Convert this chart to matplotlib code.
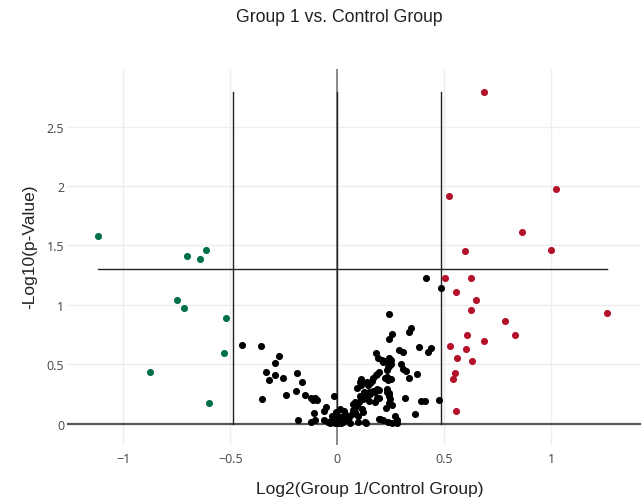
import numpy as np
import matplotlib
matplotlib.use('Agg')
import matplotlib.pyplot as plt

# log2 fold change / -log10 p for the three groups
down_x = [-1.118, -0.702, -0.642, -0.611, -0.747, -0.718, -0.520, -0.529, -0.877, -0.600]
down_y = [1.58, 1.41, 1.39, 1.46, 1.04, 0.97, 0.886, 0.59, 0.434, 0.173]

up_x = [0.687, 0.524, 1.022, 0.864, 0.599, 0.997, 0.503, 0.624, 0.557, 0.651, 0.626, 1.263,
        0.782, 0.829, 0.609, 0.687, 0.528, 0.602, 0.562, 0.631, 0.550, 0.542, 0.554]
up_y = [2.795, 1.917, 1.976, 1.61, 1.456, 1.459, 1.228, 1.228, 1.108, 1.043, 0.959, 0.934,
        0.866, 0.743, 0.743, 0.698, 0.656, 0.628, 0.554, 0.527, 0.428, 0.375, 0.103]

ns_x = [-0.447, -0.356, -0.272, -0.293, -0.335, -0.290, -0.320, -0.252, -0.188, -0.166,
        -0.353, -0.239, -0.193, -0.151, -0.123, -0.104, -0.094, -0.113, -0.014, -0.060,
        -0.052, -0.109, -0.182, -0.124, -0.104, -0.060, -0.044, -0.029, -0.015, -0.006,
        0.004, 0.013, 0.022, 0.029, 0.036, 0.041, 0.057, 0.068, 0.060, 0.075,
        0.091, 0.083, 0.103, 0.115, 0.130, 0.153, 0.169, 0.125, 0.091, 0.110,
        0.107, 0.153, 0.161, 0.188, 0.188, 0.177, 0.200, 0.130, 0.099, 0.119,
        0.083, 0.241, 0.344, 0.337, 0.258, 0.241, 0.383, 0.437, 0.425, 0.288,
        0.309, 0.181, 0.191, 0.210, 0.228, 0.244, 0.253, 0.250, 0.300, 0.309,
        0.241, 0.234, 0.197, 0.181, 0.169, 0.320, 0.334, 0.375, 0.222, 0.238,
        0.250, 0.138, 0.144, 0.196, 0.175, 0.185, 0.150, 0.119, 0.232, 0.244,
        0.317, 0.393, 0.411, 0.476, 0.228, 0.241, 0.256, 0.269, 0.362, 0.197,
        0.214, 0.238, 0.256, 0.280, 0.415, 0.484, 0.075, 0.107, 0.122, 0.138,
        0.150, 0.197, 0.232, 0.244, 0.247, 0.115, 0.135, 0.099, 0.216, 0.239,
        0.232, 0.278, -0.034, -0.010, 0.004, 0.018, -0.001, -0.024, 0.032, 0.013,
        0.110]
ns_y = [0.661, 0.655, 0.571, 0.510, 0.430, 0.409, 0.369, 0.386, 0.423, 0.347,
        0.209, 0.244, 0.271, 0.240, 0.215, 0.215, 0.198, 0.194, 0.229, 0.108,
        0.136, 0.088, 0.032, 0.015, 0.029, 0.032, 0.015, 0.025, 0.055, 0.097,
        0.063, 0.025, 0.055, 0.013, 0.080, 0.038, 0.052, 0.080, 0.005, 0.116,
        0.150, 0.179, 0.184, 0.206, 0.221, 0.249, 0.276, 0.263, 0.297, 0.324,
        0.352, 0.341, 0.361, 0.417, 0.291, 0.179, 0.038, 0.010, 0.015, 0.094,
        0.094, 0.925, 0.802, 0.768, 0.757, 0.712, 0.644, 0.639, 0.605, 0.617,
        0.600, 0.594, 0.552, 0.535, 0.527, 0.549, 0.532, 0.499, 0.499, 0.459,
        0.487, 0.453, 0.431, 0.409, 0.386, 0.445, 0.386, 0.420, 0.381, 0.364,
        0.375, 0.347, 0.324, 0.285, 0.268, 0.217, 0.263, 0.221, 0.291, 0.257,
        0.217, 0.190, 0.190, 0.201, 0.133, 0.173, 0.156, 0.066, 0.078, 0.034,
        0.029, 0.013, 0.008, 0.029, 1.228, 1.144, 0.164, 0.234, 0.206, 0.249,
        0.192, 0.212, 0.268, 0.234, 0.206, 0.122, 0.003, 0.066, 0.516, 0.473,
        0.389, 0.005, 0.004, 0.004, 0.003, 0.004, 0.038, 0.063, 0.105, 0.122,
        0.375]

p_cut = -np.log10(0.05)
fc_cut = np.log2(1.4)

x_ticks = [-1, -0.5, 0, 0.5, 1]
x_labels = ["\u22121", "\u22120.5", "0", "0.5", "1"]
y_ticks = [0, 0.5, 1, 1.5, 2, 2.5]
y_labels = ["0", "0.5", "1", "1.5", "2", "2.5"]

fig = plt.figure(figsize=(6.41, 5.02), dpi=100)
ax = fig.add_axes([67 / 641, 1 - 446 / 502, (641 - 67) / 641, 376 / 502])

all_x = down_x + up_x + ns_x
all_y = down_y + up_y + ns_y

ax.set_xlim(-1.263, 1.420)
ax.set_ylim(-0.181, 2.987)

for s in ax.spines.values():
    s.set_visible(False)

# grid + zero lines
for t in x_ticks:
    if t != 0:
        ax.axvline(t, color='#eeeeee', lw=1, zorder=0)
for t in y_ticks:
    if t != 0:
        ax.axhline(t, color='#eeeeee', lw=1, zorder=0)
ax.axhline(0, color='#555555', lw=1.6, zorder=1)
ax.axvline(0, color='#777777', lw=1.2, zorder=1)

# threshold lines
ymax = max(all_y)
ax.plot([min(all_x), max(all_x)], [p_cut, p_cut], color='#222222', lw=1, zorder=2)
for xv in [-fc_cut, 0, fc_cut]:
    ax.plot([xv, xv], [0, ymax], color='#222222', lw=1, zorder=2)

ax.scatter(ns_x, ns_y, s=26, color='black', linewidths=0, zorder=3)
ax.scatter(down_x, down_y, s=26, color='#00704a', linewidths=0, zorder=3)
ax.scatter(up_x, up_y, s=26, color='#b3122a', linewidths=0, zorder=3)

ax.set_xticks(x_ticks)
ax.set_xticklabels(x_labels)
ax.set_yticks(y_ticks)
ax.set_yticklabels(y_labels)
ax.tick_params(length=0, labelsize=9, colors='#444444', pad=5)
ax.tick_params(axis='y', pad=2)
for lab in ax.get_xticklabels() + ax.get_yticklabels():
    lab.set_family(['Open Sans', 'DejaVu Sans'])

fig.text(339.5 / 641, 1 - 18 / 502, "Group 1 vs. Control Group", ha='center', va='center',
         fontsize=12.7, family='Liberation Sans', color='#222222')
fig.text(370 / 641, 1 - 490 / 502, "Log2(Group 1/Control Group)", ha='center', va='center',
         fontsize=12.5, family='Liberation Sans', color='#222222')
fig.text(30 / 641, 1 - 247 / 502, "-Log10(p-Value)", ha='center', va='center', rotation=90,
         fontsize=12.5, family='Liberation Sans', color='#222222')

fig.savefig("out.png", dpi=100)
